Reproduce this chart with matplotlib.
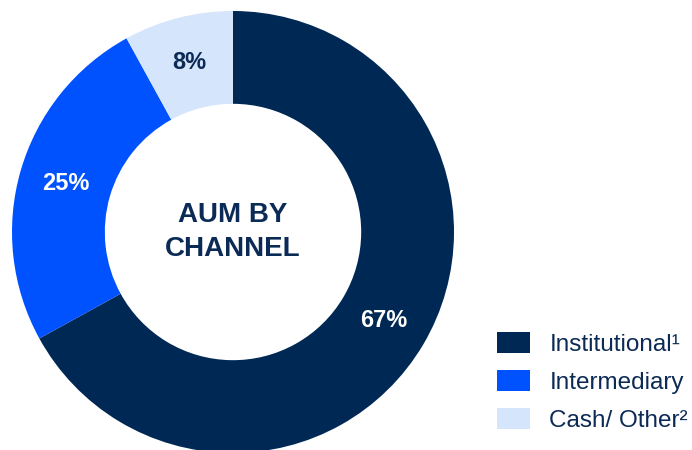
import matplotlib
matplotlib.use("Agg")
import matplotlib.pyplot as plt
from matplotlib.patches import Patch

# AUM share by channel
channels = ["Institutional\u00b9", "Intermediary", "Cash/ Other\u00b2"]
shares = [67, 25, 8]
colors = ["#002855", "#0052FF", "#D5E5FB"]
label_colors = ["white", "white", "#0B2A55"]
navy = "#0B2A55"

plt.rcParams["font.family"] = ["Liberation Sans", "DejaVu Sans"]

fig = plt.figure(figsize=(6.92, 4.5), dpi=100)
ax = fig.add_axes([0, 0, 1, 1])

wedges, texts = ax.pie(
    shares,
    colors=colors,
    startangle=90,
    counterclock=False,
    center=(233, 218),
    radius=221,
    frame=True,
    wedgeprops=dict(width=221 * 0.42, linewidth=0),
    labels=[f"{s}%" for s in shares],
    labeldistance=0.79,
    textprops=dict(fontsize=17, fontweight="bold", ha="center", va="center"),
)
for t, c in zip(texts, label_colors):
    t.set_color(c)
ax.set_xlim(0, 692)
ax.set_ylim(0, 450)
ax.axis("off")

ax.text(233, 218, "AUM BY\nCHANNEL", ha="center", va="center",
        fontsize=20, fontweight="bold", color=navy, linespacing=1.35)

handles = [Patch(facecolor=c, edgecolor="none") for c in colors]
leg = ax.legend(handles, channels, loc="lower left", bbox_to_anchor=(497 / 692, 18 / 450),
                frameon=False, fontsize=17.5, handlelength=1.35, handleheight=0.95,
                handletextpad=0.8, labelspacing=0.58, borderaxespad=0, borderpad=0)
for t in leg.get_texts():
    t.set_color(navy)

fig.savefig("out.png", dpi=100)
